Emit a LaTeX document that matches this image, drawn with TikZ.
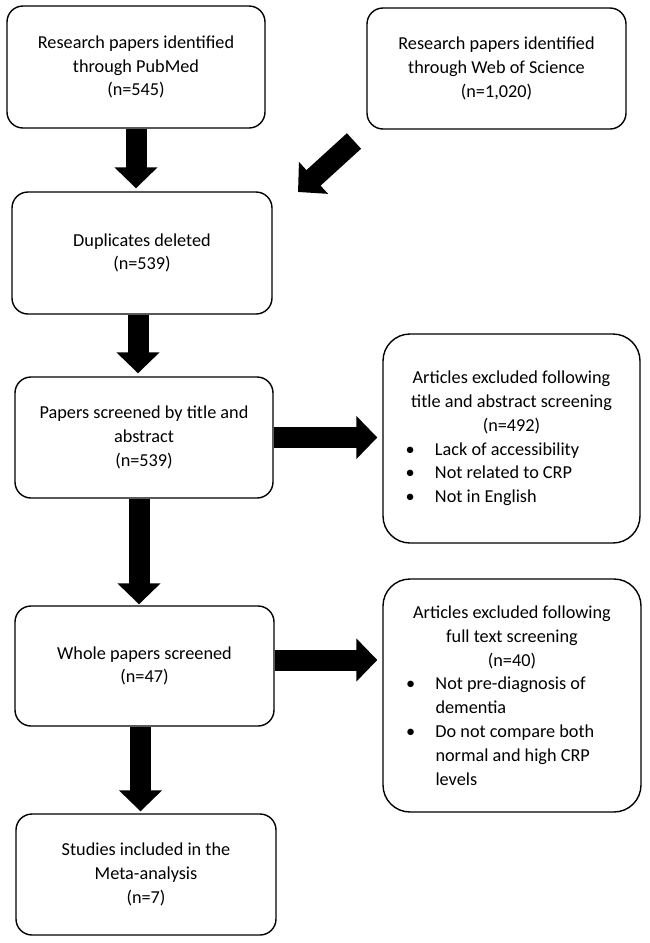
\documentclass[tikz,border=0pt]{standalone}
\usepackage{fontspec}
\setmainfont{Carlito}
\usetikzlibrary{arrows.meta,positioning}
\tikzstyle{stage}=[
	rectangle,
	rounded corners=16,
	draw=black,
	line width=1.4,
	align=center,
	inner sep=0,
	font=\fontsize{18.25}{23.8}\selectfont]
\tikzstyle{excluded}=[
	stage,
	rounded corners=27]
\tikzstyle{fat}=[
	draw=black,
	line width=21,
	-{Triangle[width=42pt,length=21pt]},
	shorten >=3pt]
\newcommand{\bul}[1]{\makebox[230pt][l]{\makebox[38.5pt][l]{\hspace*{9pt}\textbullet}#1}}
\newcommand{\cont}[1]{\makebox[230pt][l]{\hspace*{38.5pt}#1}}

\begin{document}
\begin{tikzpicture}[x=1pt,y=-1pt]
	\fill[white] (0,0) rectangle (649,943);
	\useasboundingbox (0,0) rectangle (649,943);
	% left column
	\node[stage,minimum width=258,minimum height=122]	(pubmed)	at (136,67)	{Research papers identified\\through PubMed\\(n=545)};
	\node[stage,minimum width=260,minimum height=122]	(dup)	at (142,253)	{Duplicates deleted\\(n=539)};
	\node[stage,minimum width=258,minimum height=121]	(title)	at (144,437.5)	{Papers screened by title and\\abstract\\(n=539)};
	\node[stage,minimum width=259,minimum height=120]	(whole)	at (144.5,666)	{Whole papers screened\\(n=47)};
	\node[stage,minimum width=260,minimum height=121]	(incl)	at (146,874.5)	{Studies included in the\\Meta-analysis\\(n=7)};
	% right column
	\node[stage,minimum width=259,minimum height=121]	(wos)	at (496.5,68.5)	{Research papers identified\\through Web of Science\\(n=1,020)};
	\node[excluded,minimum width=257,minimum height=209]	(excl1)	at (511.5,438.5)	{Articles excluded following\\title and abstract screening\\(n=492)\\\bul{Lack of accessibility}\\\bul{Not related to CRP}\\\bul{Not in English}};
	\node[excluded,minimum width=258,minimum height=233]	(excl2)	at (512,695.5)	{Articles excluded following\\full text screening\\(n=40)\\\bul{Not pre-diagnosis of}\\\cont{dementia}\\\bul{Do not compare both}\\\cont{normal and high CRP}\\\cont{levels}};
	% block arrows
	\coordinate (diagtail) at (354,141);
	\coordinate (diagtip) at (298,192);
	\draw[fat]	(pubmed.south) -- (pubmed.south |- dup.north);
	\draw[fat,shorten >=0]	(diagtail) -- (diagtip);
	\draw[fat]	([xshift=-4]dup.south) -- ([xshift=-4]dup.south |- title.north);
	\draw[fat,shorten >=1]	([xshift=-5]title.south) -- ([xshift=-5]title.south |- whole.north);
	\draw[fat,shorten >=2]	([xshift=-4]whole.south) -- ([xshift=-4]whole.south |- incl.north);
	\draw[fat,shorten >=5]	(title.east) -- (title.east -| excl1.west);
	\draw[fat,shorten >=5]	([yshift=6]whole.east) -- ([yshift=6]whole.east -| excl2.west);
\end{tikzpicture}
\end{document}
